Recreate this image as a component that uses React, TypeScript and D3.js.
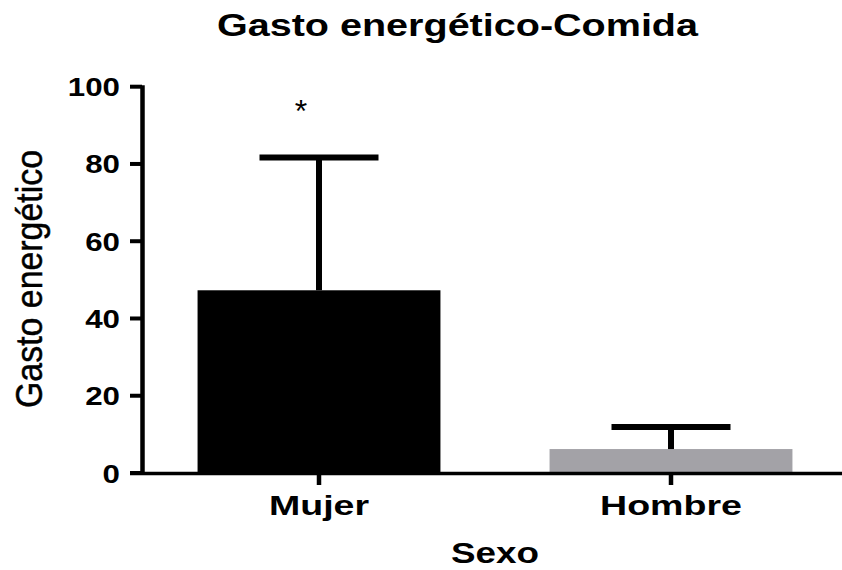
import React, { useEffect } from "react";
import * as d3 from "d3";

// Chart data
const categories = ["Mujer", "Hombre"];
const means = [47.3, 6.2];
const errors = [34.4, 5.7];
const barColors = ["#000000", "#a3a2a7"];
const significance = ["*", ""];
const yTicks = [0, 20, 40, 60, 80, 100];

const W = 842;
const H = 570;
const FONT = "'Liberation Sans', Arial, Helvetica, sans-serif";

export default function App() {
  useEffect(() => {
    document.body.style.margin = "0";
  }, []);

  const y = d3.scaleLinear().domain([0, 100]).range([473, 86.7]);
  const x = d3
    .scaleBand<string>()
    .domain(categories)
    .range([143, 847])
    .paddingInner(0.31)
    .paddingOuter(0.155);

  const bw = x.bandwidth();
  const capHalf = 59.5;
  const xLabelWidths: Record<string, number> = { Mujer: 100, Hombre: 142 };

  return (
    <svg width={W} height={H} style={{ display: "block", background: "#fff" }}>
      {/* title */}
      <text
        x={457.5}
        y={36}
        textAnchor="middle"
        fontFamily={FONT}
        fontWeight="bold"
        fontSize={31}
        textLength={481}
        lengthAdjust="spacingAndGlyphs"
      >
        Gasto energético-Comida
      </text>

      {/* bars */}
      {categories.map((c, i) => (
        <rect
          key={c}
          x={x(c)}
          y={y(means[i])}
          width={bw}
          height={y(0) - y(means[i])}
          fill={barColors[i]}
        />
      ))}

      {/* error bars (upper only) */}
      {categories.map((c, i) => {
        const cx = (x(c) as number) + bw / 2;
        const top = y(means[i] + errors[i]);
        return (
          <g key={c} stroke="#000" strokeWidth={6}>
            <line x1={cx} x2={cx} y1={y(means[i])} y2={top} />
            <line x1={cx - capHalf} x2={cx + capHalf} y1={top} y2={top} />
          </g>
        );
      })}

      {/* significance marks */}
      {categories.map((c, i) =>
        significance[i] ? (
          <text
            key={c}
            x={(x(c) as number) + bw / 2 - 18}
            y={122}
            textAnchor="middle"
            fontFamily={FONT}
            fontSize={32}
          >
            {significance[i]}
          </text>
        ) : null
      )}

      {/* y axis */}
      <line x1={142.5} x2={142.5} y1={y(100) - 1.5} y2={y(0) + 2} stroke="#000" strokeWidth={4.5} />
      {yTicks.map((t) => (
        <g key={t}>
          <line x1={130} x2={142} y1={y(t)} y2={y(t)} stroke="#000" strokeWidth={4} />
          <text
            x={120}
            y={y(t) + 9.5}
            textAnchor="end"
            fontFamily={FONT}
            fontWeight="bold"
            fontSize={26}
            textLength={String(t).length * 17.4}
            lengthAdjust="spacingAndGlyphs"
          >
            {t}
          </text>
        </g>
      ))}

      {/* x axis */}
      <line x1={130} x2={W} y1={y(0) + 0.5} y2={y(0) + 0.5} stroke="#000" strokeWidth={3.5} />
      {categories.map((c) => {
        const cx = (x(c) as number) + bw / 2;
        return (
          <g key={c}>
            <line x1={cx} x2={cx} y1={y(0)} y2={y(0) + 12} stroke="#000" strokeWidth={4.5} />
            <text
              x={cx}
              y={515}
              textAnchor="middle"
              fontFamily={FONT}
              fontWeight="bold"
              fontSize={28}
              textLength={xLabelWidths[c]}
              lengthAdjust="spacingAndGlyphs"
            >
              {c}
            </text>
          </g>
        );
      })}

      {/* axis titles */}
      <text
        x={495}
        y={563}
        textAnchor="middle"
        fontFamily={FONT}
        fontWeight="bold"
        fontSize={29}
        textLength={88}
        lengthAdjust="spacingAndGlyphs"
      >
        Sexo
      </text>
      <g transform="translate(42,279) rotate(-90) scale(1,1.2)">
        <text
          x={0}
          y={0}
          textAnchor="middle"
          fontFamily={FONT}
          fontSize={30}
          textLength={258}
          lengthAdjust="spacingAndGlyphs"
          stroke="#000"
          strokeWidth={0.4}
        >
          Gasto energético
        </text>
      </g>
    </svg>
  );
}
